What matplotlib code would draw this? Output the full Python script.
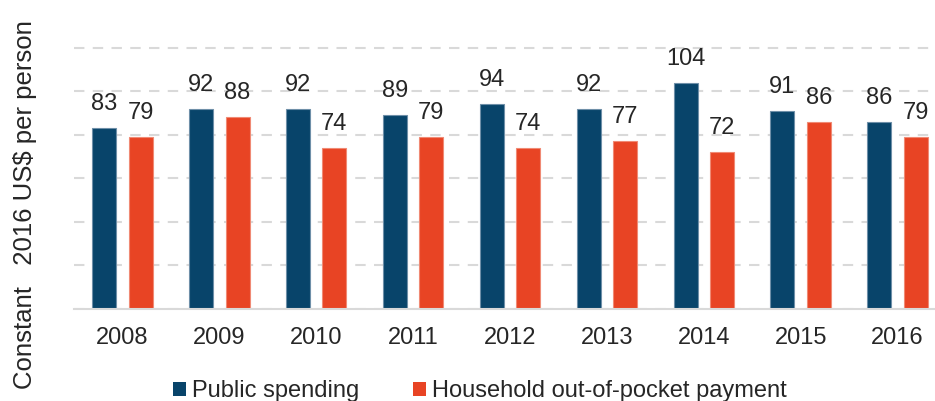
import matplotlib
matplotlib.use("Agg")
import matplotlib.pyplot as plt
from matplotlib.patches import Patch
import numpy as np

plt.rcParams['font.family'] = ['Liberation Sans', 'DejaVu Sans']

years = ["2008", "2009", "2010", "2011", "2012", "2013", "2014", "2015", "2016"]
public_spending = [83, 92, 92, 89, 94, 92, 104, 91, 86]
household_oop = [79, 88, 74, 79, 74, 77, 72, 86, 79]
series_names = ["Public spending", "Household out-of-pocket payment"]

BLUE = "#08446A"
ORANGE = "#E84424"
TEXT = "#262626"
GRID = "#D9D9D9"
FS = 17

W, H = 935, 401
fig = plt.figure(figsize=(W / 100, H / 100), dpi=100)
ax_left, ax_right = 74, 946
ax_top, ax_bottom = 26, 309
ax = fig.add_axes([ax_left / W, 1 - ax_bottom / H,
                   (ax_right - ax_left) / W, (ax_bottom - ax_top) / H])

x = np.arange(len(years))
bw = 0.248
off = 0.188
b1 = ax.bar(x - off, public_spending, bw, color=BLUE, edgecolor="#6E8FA8",
            linewidth=0.8, zorder=3)
b2 = ax.bar(x + off, household_oop, bw, color=ORANGE, edgecolor="#F08A74",
            linewidth=0.8, zorder=3)

for bars, vals in ((b1, public_spending), (b2, household_oop)):
    for rect, v in zip(bars, vals):
        ax.annotate(str(v), (rect.get_x() + rect.get_width() / 2, v),
                    xytext=(0, 13), textcoords="offset points",
                    ha="center", va="baseline", fontsize=FS, color=TEXT)

ax.set_xlim(-0.5, len(years) - 0.5)
ax.set_ylim(0, 130)
ax.set_yticks(np.arange(0, 121, 20))
ax.set_yticklabels([])
ax.tick_params(axis="y", length=0)
ax.set_xticks(x)
ax.set_xticklabels(years, fontsize=FS, color=TEXT)
ax.tick_params(axis="x", length=0, pad=13)
ax.yaxis.grid(True, color=GRID, linestyle=(0, (5, 4)), linewidth=1.5, zorder=0)
for s in ("top", "right", "left"):
    ax.spines[s].set_visible(False)
ax.spines["bottom"].set_color(GRID)
ax.spines["bottom"].set_linewidth(1.5)
ax.spines["bottom"].set_zorder(4)

fig.text(25 / W, 1 - 205 / H, "Constant   2016 US$ per person", rotation=90,
         ha="center", va="center", fontsize=18.5, color=TEXT)

handles = [Patch(facecolor=BLUE, edgecolor="none"),
           Patch(facecolor=ORANGE, edgecolor="none")]
fig.legend(handles, series_names, loc="center left",
           bbox_to_anchor=(173 / W, 1 - 391 / H), ncol=2, frameon=False,
           fontsize=FS, handlelength=0.55, handleheight=0.55,
           handletextpad=0.25, columnspacing=2.3, borderaxespad=0,
           borderpad=0, labelcolor=TEXT)

fig.savefig("out.png", dpi=100)
